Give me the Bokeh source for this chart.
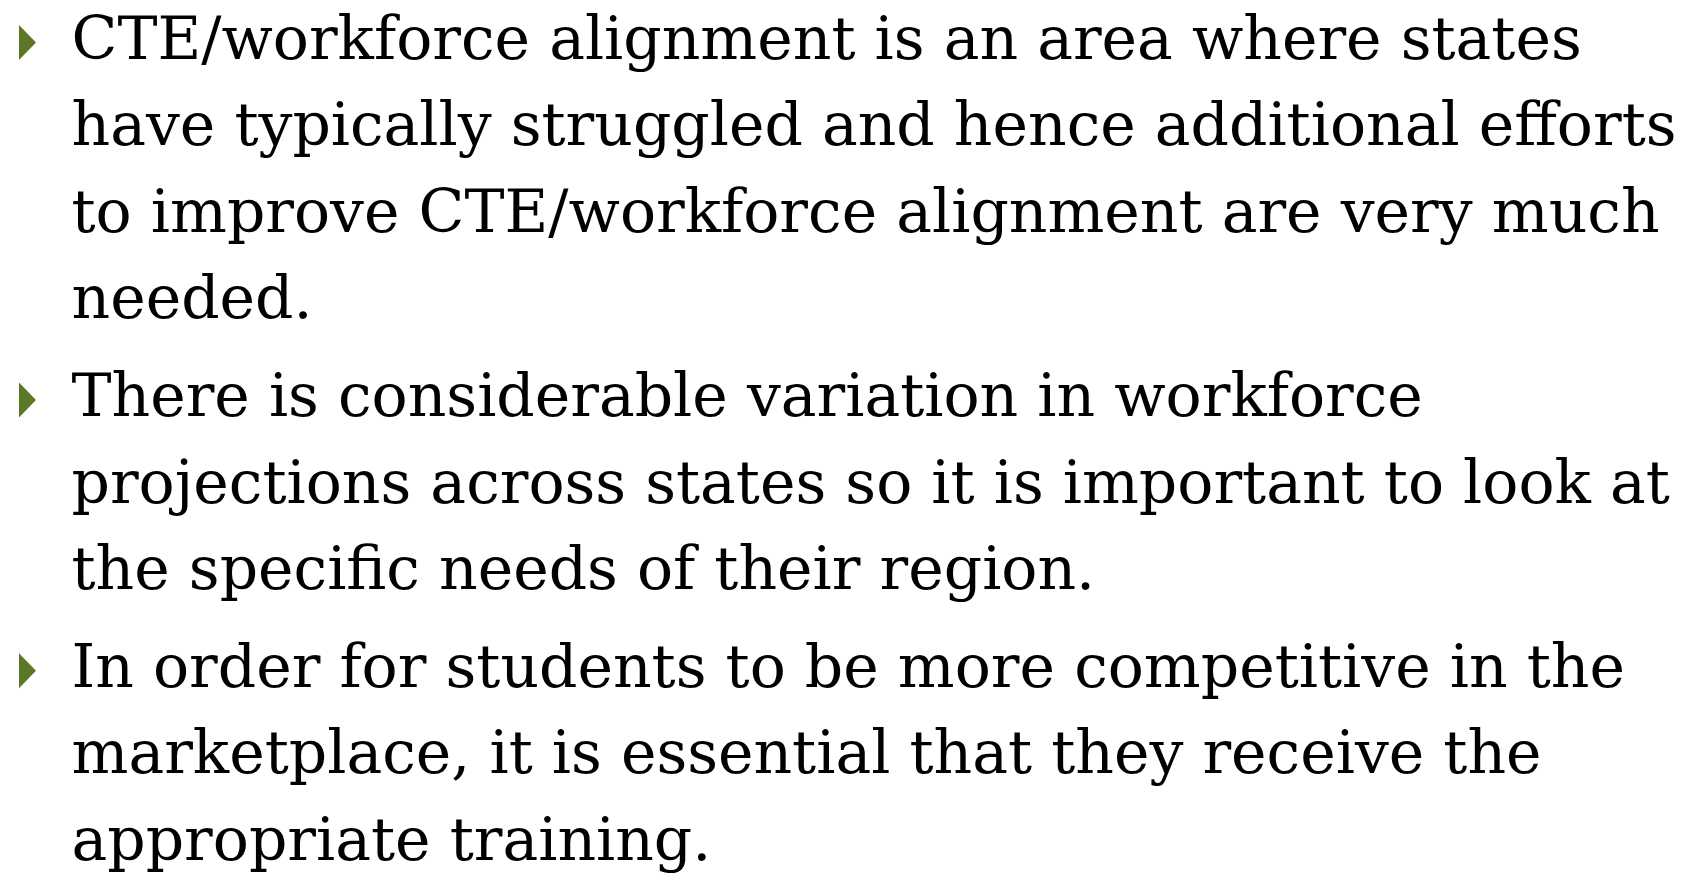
from bokeh.plotting import figure
from bokeh.models import Range1d, ColumnDataSource
from bokeh.core.properties import value
from bokeh.embed import file_html
from bokeh.resources import INLINE

# Slide content
paragraphs = [
    ["CTE/workforce alignment is an area where states",
     "have typically struggled and hence additional efforts",
     "to improve CTE/workforce alignment are very much",
     "needed."],
    ["There is considerable variation in workforce",
     "projections across states so it is important to look at",
     "the specific needs of their region."],
    ["In order for students to be more competitive in the",
     "marketplace, it is essential that they receive the",
     "appropriate training."],
]

W, H = 1676, 873
FONT = "DejaVu Serif"
FONT_SIZE = "60px"
TEXT_X = 71
BULLET_X = 18.5
FIRST_BASELINE = 37
LINE_STEP = 86.6
PARA_GAP = 11
BULLET_W = 17
BULLET_H = 35
BULLET_CENTER_Y = 42
BULLET_COLOR = "#5c7826"

xs_t, ys_t, texts = [], [], []
bx, by = [], []
y = FIRST_BASELINE
for pi, para in enumerate(paragraphs):
    if pi > 0:
        y += PARA_GAP
    for li, line in enumerate(para):
        if li == 0:
            cy = y - FIRST_BASELINE + BULLET_CENTER_Y
            bx.append([BULLET_X, BULLET_X, BULLET_X + BULLET_W])
            by.append([cy - BULLET_H / 2, cy + BULLET_H / 2, cy])
        xs_t.append(TEXT_X)
        ys_t.append(y)
        texts.append(line)
        y += LINE_STEP

p = figure(width=W, height=H, output_backend="svg", toolbar_location=None,
           x_range=Range1d(0, W), y_range=Range1d(H, 0), min_border=0)
p.axis.visible = False
p.grid.visible = False
p.outline_line_color = None
p.background_fill_color = "white"
p.border_fill_color = "white"

p.patches(xs=bx, ys=by, fill_color=BULLET_COLOR, line_color=None)
src = ColumnDataSource(dict(x=xs_t, y=ys_t, t=texts))
p.text(x="x", y="y", text="t", source=src, text_font=value(FONT),
       text_font_size=value(FONT_SIZE), text_color="black",
       text_baseline="alphabetic", text_align="left")

open("out.html", "w").write(file_html(p, INLINE))
